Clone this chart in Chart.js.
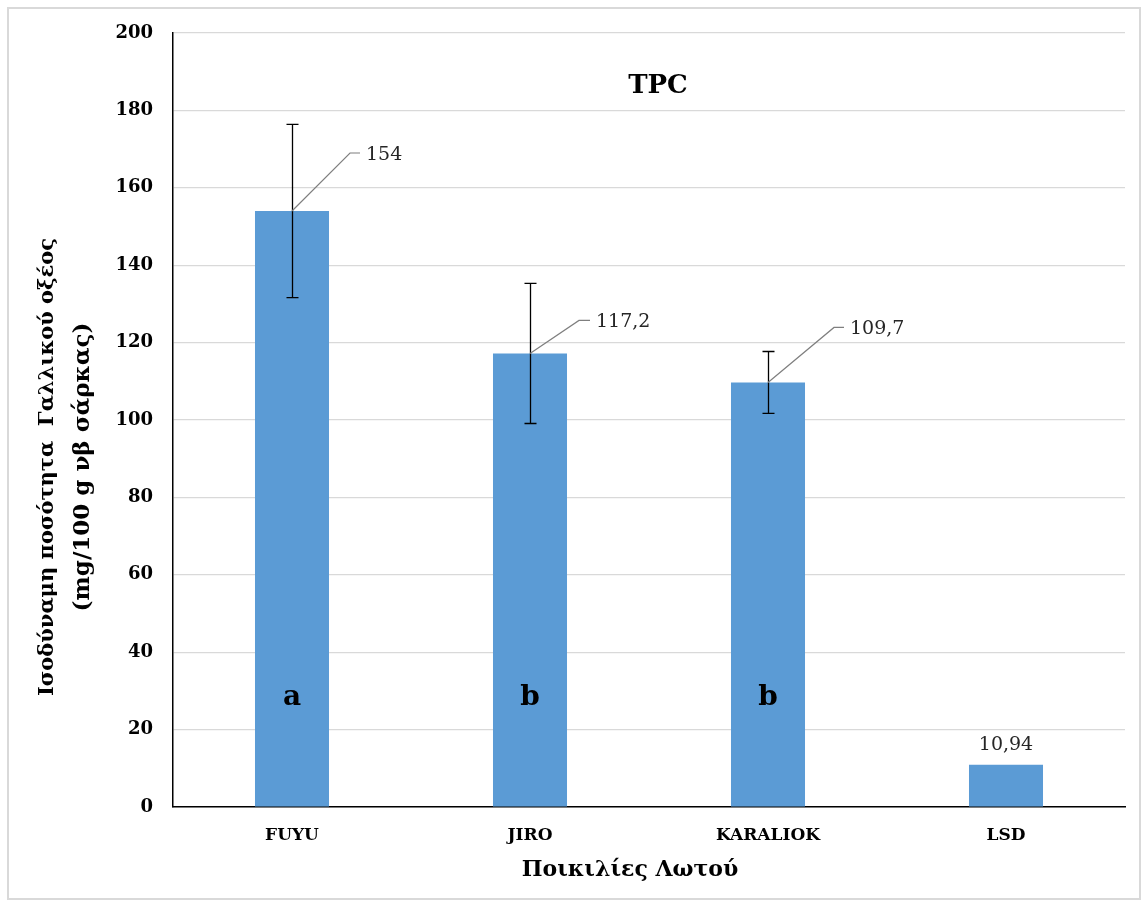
<!DOCTYPE html>
<html>
<head>
<meta charset="utf-8">
<script src="https://cdn.jsdelivr.net/npm/chart.js@4/dist/chart.umd.min.js"></script>
<style>
html,body{margin:0;padding:0;background:#fff;}
#wrap{position:relative;width:1147px;height:904px;}
</style>
</head>
<body>
<div id="wrap"><canvas id="c" width="1147" height="904"></canvas></div>
<script>
// ---- data ----
const categories = ['FUYU', 'JIRO', 'KARALIOK', 'LSD'];
const values = [154, 117.2, 109.7, 10.94];
const errors = [22.4, 18.1, 8.0, null];
const valueLabels = ['154', '117,2', '109,7', '10,94'];
const groupLetters = ['a', 'b', 'b', ''];
const letterLevel = 28;
const yTicks = [0, 20, 40, 60, 80, 100, 120, 140, 160, 180, 200];
const chartTitle = 'TPC';
const yTitleLines = ['Ισοδύναμη ποσότητα  Γαλλικού οξέος', '(mg/100 g νβ σάρκας)'];
const xTitle = 'Ποικιλίες Λωτού';

// leader-line styling (pixel offsets from bar top, style only)
const leader = [
  {dx: 58, dy: -58, h: 10},
  {dx: 49, dy: -33, h: 11},
  {dx: 66, dy: -55, h: 10},
  null
];

const SERIF = '"DejaVu Serif", "Liberation Serif", serif';

const decor = {
  id: 'decor',
  beforeDraw(chart) {
    const ctx = chart.ctx;
    ctx.save();
    ctx.fillStyle = '#fff';
    ctx.fillRect(0, 0, chart.width, chart.height);
    ctx.strokeStyle = '#d9d9d9';
    ctx.lineWidth = 2;
    ctx.strokeRect(8, 8, 1132, 891);
    ctx.restore();
  },
  afterDatasetsDraw(chart) {
    const ctx = chart.ctx;
    const y = chart.scales.y;
    const meta = chart.getDatasetMeta(0);
    ctx.save();
    // error bars
    ctx.strokeStyle = '#000';
    ctx.lineWidth = 1.3;
    meta.data.forEach((bar, i) => {
      if (errors[i] == null) return;
      const x = Math.round(bar.x) + 0.5;
      const yt = y.getPixelForValue(values[i] + errors[i]);
      const yb = y.getPixelForValue(values[i] - errors[i]);
      ctx.beginPath();
      ctx.moveTo(x, yt); ctx.lineTo(x, yb);
      ctx.moveTo(x - 6, yt); ctx.lineTo(x + 6, yt);
      ctx.moveTo(x - 6, yb); ctx.lineTo(x + 6, yb);
      ctx.stroke();
    });
    // value labels
    ctx.font = '19px ' + SERIF;
    ctx.fillStyle = '#262626';
    meta.data.forEach((bar, i) => {
      const L = leader[i];
      const top = y.getPixelForValue(values[i]);
      if (L) {
        ctx.strokeStyle = '#7f7f7f';
        ctx.lineWidth = 1.2;
        ctx.beginPath();
        ctx.moveTo(bar.x, top);
        ctx.lineTo(bar.x + L.dx, top + L.dy);
        ctx.lineTo(bar.x + L.dx + L.h, top + L.dy);
        ctx.stroke();
        ctx.textAlign = 'left';
        ctx.textBaseline = 'middle';
        ctx.fillText(valueLabels[i], bar.x + L.dx + L.h + 6, top + L.dy + 2);
      } else {
        ctx.textAlign = 'center';
        ctx.textBaseline = 'bottom';
        ctx.fillText(valueLabels[i], bar.x, top - 10);
      }
    });
    // group letters
    ctx.font = 'bold 28px ' + SERIF;
    ctx.fillStyle = '#000';
    ctx.textAlign = 'center';
    ctx.textBaseline = 'alphabetic';
    meta.data.forEach((bar, i) => {
      if (!groupLetters[i]) return;
      ctx.fillText(groupLetters[i], bar.x, y.getPixelForValue(letterLevel) + 6);
    });
    // chart title
    ctx.font = 'bold 26px ' + SERIF;
    ctx.textBaseline = 'middle';
    ctx.fillText(chartTitle, 658, 86);
    // x title
    ctx.font = 'bold 22px ' + SERIF;
    ctx.fillText(xTitle, 630, 870);
    // y title
    ctx.translate(66, 467);
    ctx.rotate(-Math.PI / 2);
    ctx.font = 'bold 21px ' + SERIF;
    ctx.fillText(yTitleLines[0], 0, -18);
    ctx.font = 'bold 23px ' + SERIF;
    ctx.fillText(yTitleLines[1], 0, 17);
    ctx.restore();
  }
};

new Chart(document.getElementById('c'), {
  type: 'bar',
  data: {
    labels: categories,
    datasets: [{
      data: values,
      backgroundColor: '#5b9bd5',
      borderWidth: 0,
      barPercentage: 0.311,
      categoryPercentage: 1.0
    }]
  },
  options: {
    responsive: false,
    animation: false,
    devicePixelRatio: 1,
    layout: {padding: {left: 0, right: 22, top: 33, bottom: 0}},
    plugins: {legend: {display: false}, tooltip: {enabled: false}, title: {display: false}},
    scales: {
      x: {
        grid: {display: false, drawTicks: false},
        border: {color: '#000', width: 1.5},
        ticks: {font: {family: SERIF, weight: 'bold', size: 17}, color: '#000', padding: 18},
        afterFit(s) { s.height = 97; }
      },
      y: {
        min: 0, max: 200,
        afterBuildTicks(s) { s.ticks = yTicks.map(v => ({value: v})); },
        grid: {color: '#d9d9d9', lineWidth: 1.2, drawTicks: false},
        border: {color: '#000', width: 1.5},
        ticks: {font: {family: SERIF, weight: 'bold', size: 18}, color: '#000', padding: 20},
        afterFit(s) { s.width = 173; }
      }
    }
  },
  plugins: [decor]
});
</script>
</body>
</html>
